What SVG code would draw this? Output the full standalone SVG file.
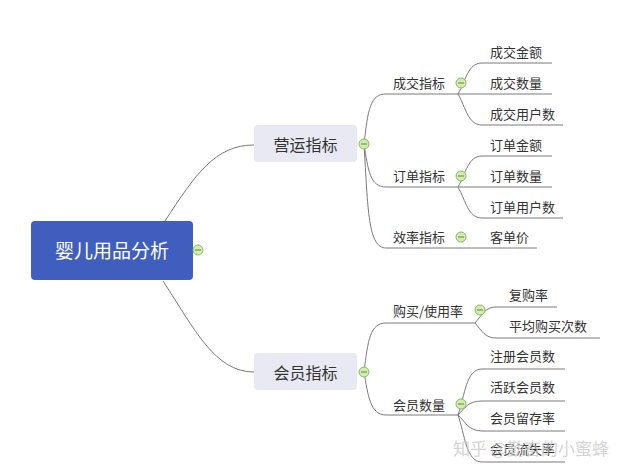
<svg xmlns="http://www.w3.org/2000/svg" width="642" height="476" viewBox="0 0 642 476">
<style>
text{font-family:"Noto Sans CJK SC","Liberation Sans",sans-serif;fill:#333}
.l2{font-size:13px}
.leaf{font-size:13px}
.c path{fill:none;stroke:#7a7a7a;stroke-width:1}
.tog{fill:#d4ecb4;stroke:#86bd55;stroke-width:1}
.dash{stroke:#5a8a30;stroke-width:1}
.box{fill:#e8e9f2}
</style>
<rect width="642" height="476" fill="#ffffff"/>
<g id="connectors" class="c">
<path d="M165 221 C195 175 215 145 254 145"/>
<path d="M163 281 C195 330 215 372 254 372"/>
<path d="M364 144 C368 110 370 94 386 94 L458 94"/>
<path d="M364 144 C368 170 370 187 386 187 L458 187"/>
<path d="M364 144 C368 210 368 248 386 248 L537 248"/>
<path d="M458 94 C466 80 468 63 482 63 L552 63"/>
<path d="M458 94 L552 94"/>
<path d="M458 94 C466 108 468 125 482 125 L563 125"/>
<path d="M458 187 C466 173 468 156 482 156 L552 156"/>
<path d="M458 187 L552 187"/>
<path d="M458 187 C466 201 468 218 482 218 L563 218"/>
<path d="M364 372 C368 340 370 323 386 323 L475 323"/>
<path d="M364 372 C368 395 370 415 386 415 L458 415"/>
<path d="M475 323 C482 315 485 307 496 307 L557 307"/>
<path d="M475 323 C482 331 485 338 496 338 L600 338"/>
<path d="M458 415 C465 395 466 369 482 369 L565 369"/>
<path d="M458 415 C465 408 468 401 482 401 L565 401"/>
<path d="M458 415 C465 421 468 431 482 431 L565 431"/>
<path d="M458 415 C465 435 466 462 482 462 L565 462"/>
</g>
<g id="root">
<rect x="31" y="221" width="162" height="59" rx="4" fill="#3f5ebd"/>
<text x="112" y="257.5" font-size="19" text-anchor="middle" style="fill:#ffffff">婴儿用品分析</text>
<circle class="tog" cx="198" cy="250" r="5"/><line class="dash" x1="195" y1="250" x2="201" y2="250"/>
</g>
<g id="yingyun">
<rect class="box" x="254" y="125" width="103" height="37" rx="4"/>
<text x="305.5" y="150.5" font-size="16" text-anchor="middle">营运指标</text>
<circle class="tog" cx="364" cy="144" r="5"/><line class="dash" x1="361" y1="144" x2="367" y2="144"/>
</g>
<g id="huiyuan">
<rect class="box" x="254" y="353" width="103" height="37" rx="4"/>
<text x="305.5" y="378.5" font-size="16" text-anchor="middle">会员指标</text>
<circle class="tog" cx="364" cy="372" r="5"/><line class="dash" x1="361" y1="372" x2="367" y2="372"/>
</g>
<g id="chengjiao">
<text class="l2" x="393" y="88">成交指标</text>
<circle class="tog" cx="461" cy="83" r="5"/><line class="dash" x1="458" y1="83" x2="464" y2="83"/>
</g>
<g id="dingdan">
<text class="l2" x="393" y="181">订单指标</text>
<circle class="tog" cx="461" cy="176" r="5"/><line class="dash" x1="458" y1="176" x2="464" y2="176"/>
</g>
<g id="xiaolv">
<text class="l2" x="393" y="242">效率指标</text>
<circle class="tog" cx="461" cy="237" r="5"/><line class="dash" x1="458" y1="237" x2="464" y2="237"/>
</g>
<g id="goumai">
<text class="l2" x="393" y="316">购买/使用率</text>
<circle class="tog" cx="480" cy="310" r="5"/><line class="dash" x1="477" y1="310" x2="483" y2="310"/>
</g>
<g id="huiyuanshuliang">
<text class="l2" x="393" y="410">会员数量</text>
<circle class="tog" cx="461" cy="404" r="5"/><line class="dash" x1="458" y1="404" x2="464" y2="404"/>
</g>
<g id="leaf1"><text class="leaf" x="490" y="57">成交金额</text></g>
<g id="leaf2"><text class="leaf" x="490" y="88">成交数量</text></g>
<g id="leaf3"><text class="leaf" x="490" y="119">成交用户数</text></g>
<g id="leaf4"><text class="leaf" x="490" y="150">订单金额</text></g>
<g id="leaf5"><text class="leaf" x="490" y="181">订单数量</text></g>
<g id="leaf6"><text class="leaf" x="490" y="212">订单用户数</text></g>
<g id="leaf7"><text class="leaf" x="490" y="242">客单价</text></g>
<g id="leaf8"><text class="leaf" x="509" y="300">复购率</text></g>
<g id="leaf9"><text class="leaf" x="509" y="331">平均购买次数</text></g>
<g id="leaf10"><text class="leaf" x="490" y="361">注册会员数</text></g>
<g id="leaf11"><text class="leaf" x="490" y="392">活跃会员数</text></g>
<g id="leaf12"><text class="leaf" x="490" y="423">会员留存率</text></g>
<g id="leaf13"><text class="leaf" x="490" y="454">会员流失率</text></g>
<text x="453" y="455" font-size="17" style="fill:#c8c8c8;fill-opacity:0.8">知乎 @勤奋的小蜜蜂</text>
</svg>
